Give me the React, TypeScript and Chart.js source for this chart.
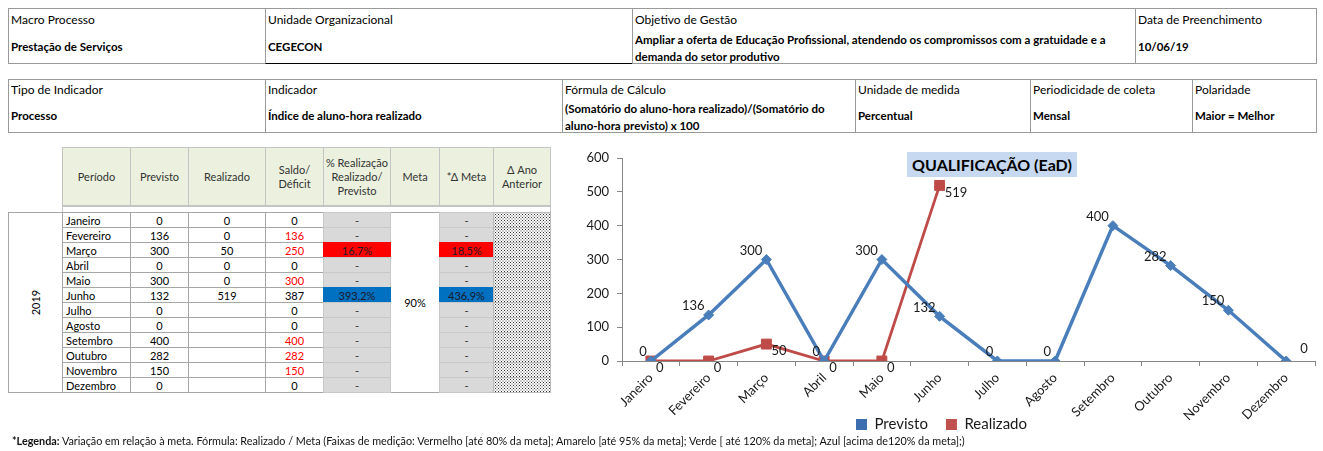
import React, { useEffect, useRef } from "react";
import { Chart, registerables } from "chart.js";

Chart.register(...registerables);

// ---------- data ----------
const months = ["Janeiro", "Fevereiro", "Março", "Abril", "Maio", "Junho", "Julho", "Agosto", "Setembro", "Outubro", "Novembro", "Dezembro"];
const previsto: (number | null)[] = [0, 136, 300, 0, 300, 132, 0, 0, 400, 282, 150, 0];
const realizado: (number | null)[] = [0, 0, 50, 0, 0, 519, null, null, null, null, null, null];
const saldo = [0, 136, 250, 0, 300, 387, 0, 0, 400, 282, 150, 0];
const saldoDeficit = [false, true, true, false, true, false, false, false, true, true, true, false];
const pctRealizacao = ["-", "-", "16,7%", "-", "-", "393,2%", "-", "-", "-", "-", "-", "-"];
const deltaMeta = ["-", "-", "18,5%", "-", "-", "436,9%", "-", "-", "-", "-", "-", "-"];
const metaValue = "90%";
const yearLabel = "2019";
const yMin = 0;
const yMax = 600;
const yStep = 100;
const chartTitle = "QUALIFICAÇÃO (EaD)";
const seriesNames = ["Previsto", "Realizado"];

const headerLabels = ["Período", "Previsto", "Realizado", "Saldo/\nDéficit", "% Realização\nRealizado/\nPrevisto", "Meta", "*Δ Meta", "Δ Ano\nAnterior"];

const FONT = "Lato, 'Open Sans', sans-serif";

function bandColor(v: string): string {
  if (v === "-") return "#d9d9d9";
  const n = parseFloat(v.replace("%", "").replace(",", "."));
  if (n <= 80) return "#ff0000";
  if (n <= 95) return "#ffff00";
  if (n <= 120) return "#00b050";
  return "#0070c0";
}

type CellProps = { x: number; y: number; w: number; h: number; children?: React.ReactNode; style?: React.CSSProperties };
const Cell = ({ x, y, w, h, children, style }: CellProps) => (
  <div
    style={{
      position: "absolute",
      left: x,
      top: y,
      width: w + 1,
      height: h + 1,
      boxSizing: "border-box",
      display: "flex",
      alignItems: "center",
      justifyContent: "center",
      ...style,
    }}
  >
    {children}
  </div>
);

type InfoProps = { x: number; y: number; w: number; h: number; label: string; value: string; labelH: number; style?: React.CSSProperties };
const InfoCell = ({ x, y, w, h, label, value, labelH, style }: InfoProps) => (
  <div
    style={{
      position: "absolute",
      left: x,
      top: y,
      width: w + 1,
      height: h + 1,
      boxSizing: "border-box",
      border: "1px solid #9a9a9a",
      display: "flex",
      flexDirection: "column",
      ...style,
    }}
  >
    <div style={{ height: labelH, lineHeight: labelH + "px", paddingLeft: 2, fontSize: 12, whiteSpace: "nowrap" }}>{label}</div>
    <div style={{ flex: 1, display: "flex", alignItems: "center", paddingLeft: 2, fontWeight: 700, fontSize: 11.5, lineHeight: "17px", paddingBottom: 2 }}>
      <span style={{ whiteSpace: "pre-line" }}>{value}</span>
    </div>
  </div>
);

function LineChart() {
  const ref = useRef<HTMLCanvasElement>(null);
  useEffect(() => {
    if (!ref.current) return;
    const labelPlugin = {
      id: "pointValueLabels",
      afterDatasetsDraw(chart: any) {
        const ctx = chart.ctx;
        ctx.save();
        ctx.font = `13px ${FONT}`;
        ctx.fillStyle = "#1a1a1a";
        ctx.textBaseline = "middle";
        chart.data.datasets.forEach((ds: any, di: number) => {
          const meta = chart.getDatasetMeta(di);
          meta.data.forEach((pt: any, i: number) => {
            const v = ds.data[i];
            if (v === null || v === undefined) return;
            if (di === 0) {
              if (i === ds.data.length - 1) {
                ctx.textAlign = "left";
                ctx.fillText(String(v), pt.x + 14, pt.y - 12);
              } else {
                ctx.textAlign = "right";
                ctx.fillText(String(v), pt.x - 4, pt.y - 9);
              }
            } else {
              ctx.textAlign = "left";
              ctx.fillText(String(v), pt.x + 5, pt.y + 7);
            }
          });
        });
        ctx.restore();
      },
    };
    const legendColors = ["#3d6eb0", "#c0504d"];
    const chart = new Chart(ref.current, {
      type: "line",
      data: {
        labels: months,
        datasets: [
          {
            label: seriesNames[0],
            data: previsto,
            borderColor: "#4a7ebb",
            backgroundColor: "#4a7ebb",
            borderWidth: 3.5,
            pointStyle: "rectRot",
            pointRadius: 5,
            pointBackgroundColor: "#4a7ebb",
            pointBorderColor: "#4a7ebb",
            pointBorderWidth: 1,
            tension: 0,
          },
          {
            label: seriesNames[1],
            data: realizado,
            borderColor: "#be4b48",
            backgroundColor: "#be4b48",
            borderWidth: 2.8,
            pointStyle: "rect",
            pointRadius: 7,
            pointBackgroundColor: "#be4b48",
            pointBorderColor: "#be4b48",
            pointBorderWidth: 1,
            tension: 0,
            spanGaps: false,
          },
        ],
      },
      options: {
        animation: false,
        responsive: false,
        layout: { padding: { top: 18, right: 0, left: 0, bottom: 0 } },
        scales: {
          x: {
            offset: true,
            grid: { offset: true, drawOnChartArea: false, drawTicks: true, tickLength: 5, color: "#868686" },
            border: { color: "#868686", width: 1 },
            ticks: { minRotation: 45, maxRotation: 45, autoSkip: false, font: { family: FONT, size: 13 }, color: "#1a1a1a", padding: 4 },
            afterFit: (s: any) => {
              s.height = 38;
              // let the rotated labels overflow below the axis box (legend sits beside them)
              s._computeLabelArea = () => undefined;
            },
          },
          y: {
            min: yMin,
            max: yMax,
            ticks: { stepSize: yStep, font: { family: FONT, size: 13 }, color: "#1a1a1a", padding: 8 },
            grid: { drawOnChartArea: false, drawTicks: true, tickLength: 5, color: "#868686" },
            border: { color: "#868686", width: 1 },
            afterFit: (s: any) => {
              s.width = 62;
            },
          },
        },
        plugins: {
          legend: {
            position: "bottom",
            labels: {
              boxWidth: 11,
              boxHeight: 11,
              padding: 18,
              font: { family: FONT, size: 15 },
              color: "#1a1a1a",
              generateLabels: (c: any) => {
                const items = (Chart.defaults.plugins.legend.labels as any).generateLabels(c);
                return items.map((it: any, i: number) => ({ ...it, fillStyle: legendColors[i], strokeStyle: legendColors[i], lineWidth: 0 }));
              },
            },
          },
          tooltip: { enabled: false },
          title: { display: false },
        },
      } as any,
      plugins: [labelPlugin],
    });
    return () => chart.destroy();
  }, []);
  return (
    <canvas
      ref={ref}
      width={763}
      height={302}
      style={{ position: "absolute", left: 560, top: 140, width: 763, height: 302 }}
    />
  );
}

export default function App() {
  const colX = [62, 130, 188, 265, 323, 390, 439, 493, 550];
  const headTop = 147;
  const headBottom = 205;
  const rowTop = 212;
  const rowH = 15;
  const gridC = "#a6a6a6";
  const dotted: React.CSSProperties = {
    backgroundColor: "#fff",
    backgroundImage:
      "radial-gradient(circle, #333 0.5px, transparent 0.8px), radial-gradient(circle, #333 0.5px, transparent 0.8px)",
    backgroundSize: "3px 3px, 3px 3px",
    backgroundPosition: "0 0, 1.5px 1.5px",
  };

  return (
    <div
      style={{
        position: "absolute",
        left: 0,
        top: 0,
        width: 1323,
        height: 451,
        background: "#fff",
        fontFamily: FONT,
        color: "#000",
        overflow: "hidden",
      }}
    >
      {/* Info table 1 */}
      <InfoCell x={8} y={8} w={257} h={55} labelH={22} label="Macro Processo" value="Prestação de Serviços" />
      <InfoCell x={265} y={8} w={367} h={55} labelH={22} label="Unidade Organizacional" value="CEGECON" style={{ borderBottom: "1px solid #000", borderRight: "1px solid #333" }} />
      <InfoCell x={632} y={8} w={503} h={55} labelH={22} label="Objetivo de Gestão" value={"Ampliar a oferta de Educação Profissional, atendendo os compromissos com a gratuidade e a\ndemanda do setor produtivo"} />
      <InfoCell x={1135} y={8} w={181} h={55} labelH={22} label="Data de Preenchimento" value="10/06/19" />

      {/* Info table 2 */}
      <InfoCell x={8} y={79} w={257} h={53} labelH={20} label="Tipo de Indicador" value="Processo" />
      <InfoCell x={265} y={79} w={297} h={53} labelH={20} label="Indicador" value="Índice de aluno-hora realizado" />
      <InfoCell x={562} y={79} w={293} h={53} labelH={20} label="Fórmula  de Cálculo" value={"(Somatório do aluno-hora realizado)/(Somatório do\naluno-hora previsto) x 100"} />
      <InfoCell x={855} y={79} w={175} h={53} labelH={20} label="Unidade de medida" value="Percentual" />
      <InfoCell x={1030} y={79} w={162} h={53} labelH={20} label="Periodicidade de coleta" value="Mensal" />
      <InfoCell x={1192} y={79} w={124} h={53} labelH={20} label="Polaridade" value="Maior = Melhor" />

      {/* Data table header */}
      {headerLabels.map((h, i) => (
        <Cell
          key={"h" + i}
          x={colX[i]}
          y={headTop}
          w={colX[i + 1] - colX[i]}
          h={headBottom - headTop}
          style={{ background: "#ebf1de", border: "1px solid #c4c4c4", fontSize: 11, color: "#333", textAlign: "center", whiteSpace: "pre-line", lineHeight: "14px" }}
        >
          {h}
        </Cell>
      ))}
      <Cell x={colX[0]} y={headBottom} w={colX[8] - colX[0]} h={rowTop - headBottom} style={{ border: "1px solid #c4c4c4", borderTop: "2px solid #c4c4c4" }} />

      {/* Year column */}
      <Cell x={8} y={rowTop} w={colX[0] - 8} h={rowH * 12} style={{ border: `1px solid ${gridC}`, fontSize: 11 }}>
        <span style={{ transform: "rotate(-90deg)", display: "inline-block" }}>{yearLabel}</span>
      </Cell>

      {/* Meta merged column */}
      <Cell x={colX[5]} y={rowTop} w={colX[6] - colX[5]} h={rowH * 12} style={{ border: `1px solid ${gridC}`, fontSize: 11 }}>
        {metaValue}
      </Cell>

      {months.map((m, i) => {
        const y = rowTop + i * rowH;
        const fs = 11;
        const base: React.CSSProperties = { border: `1px solid ${gridC}`, fontSize: fs };
        const band = bandColor(deltaMeta[i]);
        const bandCell = (color: string): React.CSSProperties => ({
          fontSize: fs,
          background: color,
          border: color === "#d9d9d9" ? "1px solid #c8c8c8" : "1px solid " + color,
          color: color === "#d9d9d9" ? "#333" : "#1a1a2a",
        });
        return (
          <React.Fragment key={m}>
            <Cell x={colX[0]} y={y} w={colX[1] - colX[0]} h={rowH} style={{ ...base, justifyContent: "flex-start", paddingLeft: 3 }}>
              {m}
            </Cell>
            <Cell x={colX[1]} y={y} w={colX[2] - colX[1]} h={rowH} style={base}>
              {previsto[i] === null ? "" : previsto[i]}
            </Cell>
            <Cell x={colX[2]} y={y} w={colX[3] - colX[2]} h={rowH} style={base}>
              {realizado[i] === null ? "" : realizado[i]}
            </Cell>
            <Cell x={colX[3]} y={y} w={colX[4] - colX[3]} h={rowH} style={{ ...base, color: saldoDeficit[i] ? "#ff0000" : "#000" }}>
              {saldo[i]}
            </Cell>
            <Cell x={colX[4]} y={y} w={colX[5] - colX[4]} h={rowH} style={bandCell(band)}>
              {pctRealizacao[i]}
            </Cell>
            <Cell x={colX[6]} y={y} w={colX[7] - colX[6]} h={rowH} style={bandCell(band)}>
              {deltaMeta[i]}
            </Cell>
            <Cell x={colX[7]} y={y} w={colX[8] - colX[7]} h={rowH} style={{ ...dotted, border: "1px solid #bbb" }} />
          </React.Fragment>
        );
      })}

      {/* Chart */}
      <LineChart />
      <div
        style={{
          position: "absolute",
          left: 907,
          top: 152,
          width: 170,
          height: 25,
          background: "#c6d9f0",
          fontWeight: 700,
          fontSize: 16,
          lineHeight: "25px",
          textAlign: "center",
          color: "#000",
          whiteSpace: "nowrap",
        }}
      >
        {chartTitle}
      </div>

      {/* Footer */}
      <div style={{ position: "absolute", left: 12, top: 434, fontSize: 10.8, whiteSpace: "nowrap", color: "#111" }}>
        <b>*Legenda:</b> Variação em relação à meta. Fórmula: Realizado / Meta (Faixas de medição: Vermelho [até 80% da meta]; Amarelo [até 95% da meta]; Verde [ até 120% da meta]; Azul [acima de120% da meta];)
      </div>
    </div>
  );
}
